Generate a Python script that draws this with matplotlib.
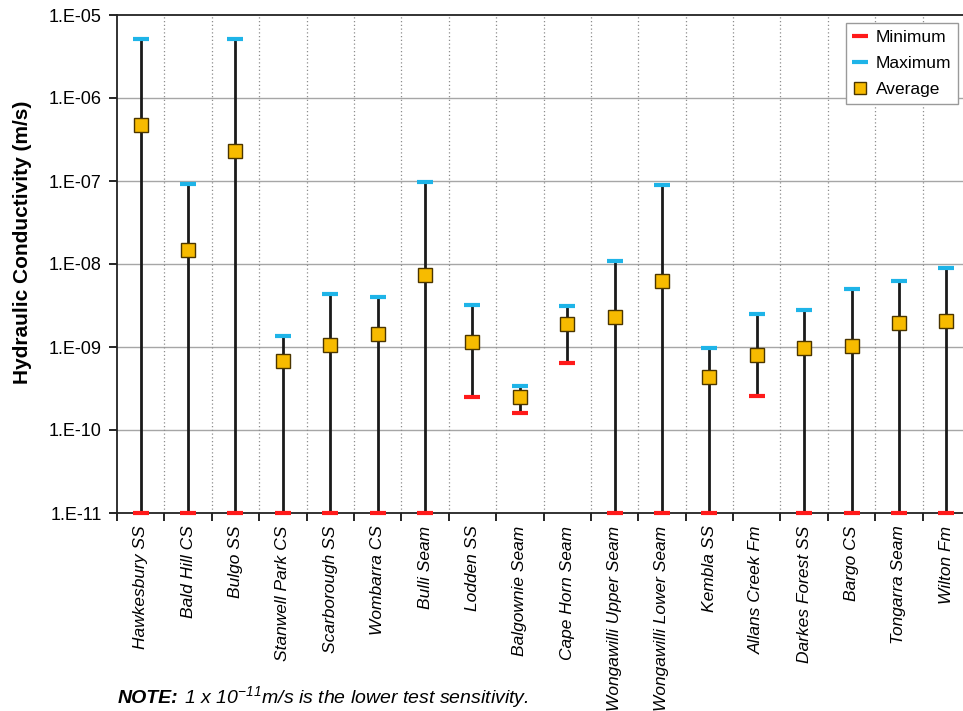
import numpy as np
import matplotlib
matplotlib.use('Agg')
import matplotlib.pyplot as plt
from matplotlib.lines import Line2D
from matplotlib.ticker import FixedLocator, NullLocator

plt.rcParams['font.family'] = ['Liberation Sans', 'DejaVu Sans']
plt.rcParams['mathtext.fontset'] = 'custom'
plt.rcParams['mathtext.rm'] = 'Liberation Sans:italic'
plt.rcParams['mathtext.it'] = 'Liberation Sans:italic'

# data
units = ['Hawkesbury SS', 'Bald Hill CS', 'Bulgo SS', 'Stanwell Park CS',
         'Scarborough SS', 'Wombarra CS', 'Bulli Seam', 'Lodden SS',
         'Balgownie Seam', 'Cape Horn Seam', 'Wongawilli Upper Seam',
         'Wongawilli Lower Seam', 'Kembla SS', 'Allans Creek Fm',
         'Darkes Forest SS', 'Bargo CS', 'Tongarra Seam', 'Wilton Fm']
k_min = [1e-11, 1e-11, 1e-11, 1e-11, 1e-11, 1e-11, 1e-11, 2.5e-10,
         1.6e-10, 6.4e-10, 1e-11, 1e-11, 1e-11, 2.57e-10,
         1e-11, 1e-11, 1e-11, 1e-11]
k_max = [5.2e-6, 9.2e-8, 5.2e-6, 1.35e-9, 4.4e-9, 4.0e-9, 9.7e-8, 3.2e-9,
         3.4e-10, 3.1e-9, 1.1e-8, 9.0e-8, 9.6e-10, 2.5e-9,
         2.8e-9, 5.0e-9, 6.2e-9, 8.9e-9]
k_avg = [4.7e-7, 1.46e-8, 2.3e-7, 6.7e-10, 1.06e-9, 1.45e-9, 7.3e-9, 1.15e-9,
         2.5e-10, 1.9e-9, 2.3e-9, 6.3e-9, 4.3e-10, 8.0e-10,
         9.6e-10, 1.03e-9, 1.97e-9, 2.06e-9]
y_ticks = [1e-11, 1e-10, 1e-9, 1e-8, 1e-7, 1e-6, 1e-5]
y_labels = ['1.E-11', '1.E-10', '1.E-09', '1.E-08', '1.E-07', '1.E-06', '1.E-05']

RED = '#ff1a1a'
CYAN = '#1eb4e8'
ORANGE = '#f7bb00'

W, H = 963, 711
fig = plt.figure(figsize=(W / 100, H / 100), dpi=100)
# axes extends a bit past the right edge, like the cropped original
ax = fig.add_axes([117 / W, 1 - 513 / H, (970 - 117) / W, (513 - 15) / H])

x = np.arange(len(units)) + 0.5

ax.set_yscale('log')
ax.set_ylim(1e-11, 1e-5)
ax.set_xlim(0, len(units))

# grid
for yv in y_ticks[1:-1]:
    ax.axhline(yv, color='#a6a6a6', lw=1.0, zorder=1)
for xb in range(1, len(units)):
    ax.axvline(xb, color='#8c8c8c', lw=0.9, ls=(0, (1, 2)), zorder=1)

# whiskers
ax.vlines(x, k_min, k_max, color='#1a1a1a', lw=2.0, zorder=3)
ax.plot(x, k_min, ls='none', marker='_', ms=11, mew=3, color=RED,
        zorder=6, clip_on=False)
ax.plot(x, k_max, ls='none', marker='_', ms=11, mew=3, color=CYAN, zorder=4)
ax.plot(x, k_avg, ls='none', marker='s', ms=9.5, mfc=ORANGE, mec='#4a3500',
        mew=1.0, zorder=5)

# axes styling
for side in ['left', 'bottom', 'top']:
    ax.spines[side].set_linewidth(1.3)
    ax.spines[side].set_color('#222222')
ax.spines['right'].set_visible(False)

ax.yaxis.set_major_locator(FixedLocator(y_ticks))
ax.yaxis.set_minor_locator(NullLocator())
ax.set_yticklabels(y_labels, fontsize=13)
ax.tick_params(axis='y', which='major', length=6, width=1.2, pad=5)

ax.xaxis.set_major_locator(FixedLocator(range(len(units) + 1)))
ax.xaxis.set_major_formatter(plt.NullFormatter())
ax.xaxis.set_minor_locator(FixedLocator(x))
ax.set_xticklabels(units, minor=True, rotation=90, fontsize=12.5,
                   style='italic', va='top', ha='center')
ax.tick_params(axis='x', which='major', length=6, width=1.2)
ax.tick_params(axis='x', which='minor', length=0, pad=9)

fig.text(23 / W, 1 - 242 / H, 'Hydraulic Conductivity (m/s)', rotation=90,
         fontsize=15, fontweight='bold', ha='center', va='center')

# legend
handles = [
    Line2D([], [], ls='none', marker='_', ms=11, mew=3, color=RED),
    Line2D([], [], ls='none', marker='_', ms=11, mew=3, color=CYAN),
    Line2D([], [], ls='none', marker='s', ms=9, mfc=ORANGE, mec='#4a3500', mew=1.0),
]
leg = ax.legend(handles, ['Minimum', 'Maximum', 'Average'], loc='upper right',
                bbox_to_anchor=((958 - 117) / 853, 0.984), borderaxespad=0,
                fontsize=12.5, fancybox=False, framealpha=1, edgecolor='#9a9a9a',
                handlelength=0.8, handletextpad=0.5, labelspacing=0.62,
                borderpad=0.4)
leg.get_frame().set_linewidth(1.0)

# note, baseline aligned in two pieces
note_y = 1 - 703 / H
t1 = fig.text(118 / W, note_y, 'NOTE:', fontsize=14, fontweight='bold',
              style='italic', ha='left', va='baseline')
fig.canvas.draw()
bb = t1.get_window_extent()
fig.text(bb.x1 / W, note_y, r' 1 x 10$^{-11}$m/s is the lower test sensitivity.',
         fontsize=14, style='italic', ha='left', va='baseline')

fig.savefig('out.png', dpi=100)
